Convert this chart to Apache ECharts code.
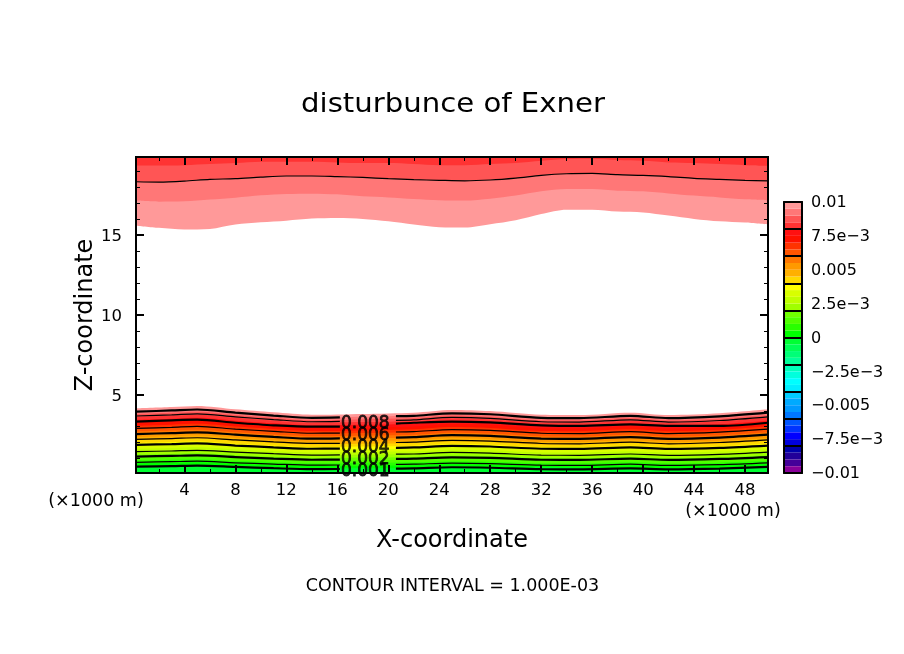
<!DOCTYPE html>
<html><head><meta charset="utf-8">
<script src="https://cdn.jsdelivr.net/npm/echarts@6/dist/echarts.min.js"></script>
<style>html,body{margin:0;padding:0;background:#fff}#c{width:904px;height:654px}</style>
</head><body><div id="c"></div>
<script>
// ---- tick values and labels
const xMajor = [4,8,12,16,20,24,28,32,36,40,44,48];
const xMinor = [2,6,10,14,18,22,26,30,34,38,42,46];
const zMajor = [5,10,15];
const zMinor = [1,2,3,4,6,7,8,9,11,12,13,14,16,17,18,19];
const barLabelValues = [0.01,0.0075,0.005,0.0025,0,-0.0025,-0.005,-0.0075,-0.01];
const barLabelTexts = ['0.01','7.5e\u22123','0.005','2.5e\u22123','0','\u22122.5e\u22123','\u22120.005','\u22127.5e\u22123','\u22120.01'];
const barSeparators = [0.008,0.006,0.004,0.002,0,-0.002,-0.004,-0.006,-0.008];
// ---- colour scale, top (0.01) to bottom (-0.01), one per 0.0005
const barColors = ['#ff9999','#ff7777','#ff5555','#ff3333','#ff1111','#ff1100','#ff3300','#ff5500','#ff7700','#ff9900',
 '#ffb000','#ffd800','#ffff00','#d8ff00','#c0ff00','#a0ff00','#70ff00','#50ff00','#28ff00','#00ff00',
 '#00ff33','#00ff55','#00ff77','#00ff99','#00ffbb','#00ffdd','#00ffff','#00eeff','#00ccff','#00aaff',
 '#0099ff','#0077ff','#0055ff','#0033ff','#0000ff','#0000dd','#0000aa','#220099','#440099','#880099'];
// ---- upper region: height of each shade boundary
const topX = [0.2,2,4,6,8,10,12,14,16,18,20,22,24,26,28,30,32,34,36,38,40,42,44,46,48,49.8];
const top100 = [15.60,15.46,15.35,15.39,15.67,15.81,15.91,16.04,16.08,16.02,15.87,15.67,15.50,15.48,15.69,15.94,16.33,16.60,16.60,16.48,16.42,16.23,16.02,15.87,15.79,15.67];
const top095 = [17.17,17.10,17.12,17.23,17.35,17.50,17.58,17.60,17.56,17.44,17.37,17.27,17.19,17.17,17.29,17.48,17.75,17.90,17.90,17.79,17.75,17.62,17.48,17.37,17.25,17.19];
const top090 = [18.35,18.33,18.39,18.50,18.54,18.64,18.71,18.71,18.67,18.62,18.54,18.48,18.44,18.41,18.46,18.58,18.75,18.85,18.87,18.79,18.75,18.67,18.56,18.50,18.44,18.41];
const top085 = [19.37,19.37,19.39,19.46,19.52,19.60,19.60,19.60,19.56,19.52,19.52,19.46,19.39,19.39,19.46,19.52,19.66,19.77,19.79,19.71,19.66,19.56,19.52,19.46,19.39,19.35];
// ---- lower region: height of each shade boundary
const lowX = [0.2,3,5,8,11,14,18,22,25,28,32,35,39,42,46,49.8];
const b00 = [4.15,4.23,4.30,4.09,3.90,3.75,3.80,3.88,4.05,3.98,3.75,3.73,3.88,3.73,3.84,4.09];
const b01 = [3.97,4.05,4.12,3.91,3.73,3.58,3.63,3.71,3.87,3.81,3.58,3.56,3.71,3.56,3.67,3.91];
const b02 = [3.79,3.87,3.93,3.73,3.56,3.41,3.46,3.54,3.70,3.63,3.41,3.40,3.54,3.40,3.50,3.73];
const b03 = [3.61,3.68,3.75,3.56,3.38,3.25,3.29,3.36,3.52,3.46,3.25,3.23,3.36,3.23,3.33,3.56];
const b04 = [3.43,3.50,3.56,3.38,3.21,3.08,3.12,3.19,3.34,3.28,3.08,3.06,3.19,3.06,3.16,3.38];
const b05 = [3.25,3.32,3.38,3.20,3.04,2.91,2.95,3.02,3.17,3.11,2.91,2.89,3.02,2.89,2.99,3.20];
const b06 = [3.06,3.13,3.18,3.01,2.86,2.73,2.77,2.84,2.98,2.92,2.73,2.72,2.84,2.72,2.81,3.01];
const b07 = [2.88,2.94,3.00,2.83,2.68,2.56,2.60,2.67,2.80,2.75,2.56,2.55,2.67,2.55,2.64,2.83];
const b08 = [2.70,2.76,2.81,2.65,2.51,2.40,2.43,2.49,2.62,2.57,2.40,2.38,2.49,2.38,2.46,2.65];
const b09 = [2.52,2.58,2.63,2.48,2.34,2.23,2.26,2.32,2.45,2.40,2.23,2.21,2.32,2.21,2.29,2.48];
const b10 = [2.34,2.40,2.45,2.30,2.17,2.06,2.10,2.15,2.27,2.22,2.06,2.05,2.15,2.05,2.12,2.30];
const b11 = [2.16,2.21,2.26,2.12,1.99,1.89,1.93,1.98,2.09,2.05,1.89,1.88,1.98,1.88,1.95,2.12];
const b12 = [1.98,2.03,2.08,1.94,1.82,1.72,1.76,1.81,1.92,1.87,1.72,1.71,1.81,1.71,1.78,1.94];
const b13 = [1.80,1.85,1.89,1.76,1.65,1.56,1.59,1.64,1.74,1.70,1.56,1.54,1.64,1.54,1.61,1.76];
const b14 = [1.62,1.67,1.71,1.59,1.48,1.39,1.42,1.46,1.56,1.52,1.39,1.38,1.46,1.38,1.44,1.59];
const b15 = [1.44,1.48,1.52,1.41,1.30,1.22,1.25,1.29,1.39,1.35,1.22,1.21,1.29,1.21,1.27,1.41];
const b16 = [1.25,1.29,1.33,1.22,1.12,1.04,1.07,1.11,1.20,1.16,1.04,1.03,1.11,1.03,1.09,1.22];
const b17 = [1.07,1.11,1.14,1.04,0.95,0.87,0.90,0.94,1.02,0.99,0.87,0.86,0.94,0.86,0.92,1.04];
const b18 = [0.89,0.93,0.96,0.86,0.78,0.71,0.73,0.77,0.84,0.81,0.71,0.70,0.77,0.70,0.75,0.86];
const b19 = [0.71,0.74,0.77,0.68,0.60,0.54,0.56,0.59,0.67,0.64,0.54,0.53,0.59,0.53,0.58,0.68];
const b20 = [0.53,0.56,0.59,0.51,0.43,0.37,0.39,0.42,0.49,0.46,0.37,0.36,0.42,0.36,0.41,0.51];
// ---- contour lines of the lower region (broken around the labels at x = 18)
const lineX = [0.2,3,5,8,11,14,16.2,18,20.6,22,25,28,32,35,39,42,46,49.8];
const c00 = [3.94,4.02,4.08,3.88,3.70,3.56,3.58,null,3.66,3.68,3.84,3.78,3.56,3.54,3.68,3.54,3.65,3.88];
const c01 = [3.67,3.74,3.81,3.62,3.45,3.31,3.33,null,3.40,3.43,3.58,3.52,3.31,3.29,3.43,3.29,3.39,3.62];
const c02 = [3.32,3.40,3.44,3.25,3.09,3.00,3.00,null,3.19,3.25,3.32,3.27,3.09,3.05,3.15,3.05,3.05,3.25];
const c03 = [2.90,2.96,3.02,2.85,2.71,2.59,2.60,null,2.67,2.69,2.82,2.77,2.59,2.57,2.69,2.57,2.66,2.85];
const c04 = [2.54,2.60,2.65,2.50,2.36,2.25,2.27,null,2.32,2.35,2.47,2.42,2.25,2.24,2.35,2.24,2.32,2.50];
const c05 = [2.21,2.26,2.31,2.17,2.05,1.95,1.96,null,2.01,2.03,2.14,2.10,1.95,1.93,2.03,1.93,2.01,2.17];
const c06 = [1.86,1.91,1.95,1.82,1.71,1.62,1.63,null,1.68,1.70,1.80,1.76,1.62,1.61,1.70,1.61,1.67,1.82];
const c07 = [1.44,1.48,1.52,1.41,1.31,1.22,1.23,null,1.28,1.29,1.39,1.35,1.22,1.21,1.29,1.21,1.27,1.41];
const c08 = [1.13,1.17,1.20,1.10,1.00,0.93,0.94,null,0.98,1.00,1.08,1.05,0.93,0.92,1.00,0.92,0.98,1.10];
const c09 = [0.77,0.81,0.84,0.74,0.66,0.59,0.60,null,0.64,0.65,0.72,0.69,0.59,0.58,0.65,0.58,0.63,0.74];
const c10 = [0.50,0.53,0.56,0.48,0.40,0.34,0.35,null,0.38,0.39,0.46,0.43,0.34,0.33,0.39,0.33,0.38,0.48];
const contourLabelTexts = ['0.008','0.006','0.004','0.002','0.001'];
const contourLabelZ = [3.17,2.42,1.67,0.97,0.22];
const contourLabelX = [18.2,18.2,18.2,18.2,18.2];

const FONT = 'DejaVu Sans';
const lowBands = [b00,b01,b02,b03,b04,b05,b06,b07,b08,b09,b10,b11,b12,b13,b14,b15,b16,b17,b18,b19,b20];
const lowLines = [c00,c01,c02,c03,c04,c05,c06,c07,c08,c09,c10];
const topBands = [top100,top095,top090,top085];
const zip = (xs, ys) => xs.map((x,i) => [x, ys[i]]);
const series = [];
topBands.forEach((b,i) => series.push({type:'line', z:2, xAxisIndex:0, yAxisIndex:0, symbol:'none', smooth:0.3, silent:true,
  data:zip(topX,b), lineStyle:{width:0}, areaStyle:{color:barColors[i], opacity:1, origin:'end'}}));
lowBands.forEach((b,i) => series.push({type:'line', z:2, xAxisIndex:0, yAxisIndex:0, symbol:'none', smooth:0.3, silent:true,
  data:zip(lowX,b), lineStyle:{width:0}, areaStyle:{color:barColors[i], opacity:1, origin:'start'}}));
// the shade under the lowest contour
series.push({type:'line', z:2, xAxisIndex:0, yAxisIndex:0, symbol:'none', smooth:0.3, silent:true,
  data:zip(lowX,c10), lineStyle:{width:0}, areaStyle:{color:barColors[20], opacity:1, origin:'start'}});
series.push({type:'line', z:3, xAxisIndex:0, yAxisIndex:0, symbol:'none', smooth:0.3, silent:true,
  data:zip(topX,top090), lineStyle:{color:'#000', width:1.2}});
lowLines.forEach((l,i) => series.push({type:'line', z:3, xAxisIndex:0, yAxisIndex:0, symbol:'none', smooth:0.3, silent:true,
  data:zip(lineX,l), lineStyle:{color:'#000', width:i%2===0?2.2:1.2}}));
series.push({type:'scatter', z:5, xAxisIndex:0, yAxisIndex:0, symbolSize:0, silent:true,
  data:contourLabelTexts.map((t,i)=>({value:[contourLabelX[i],contourLabelZ[i]], name:t})),
  label:{show:true, position:'inside', formatter:p=>p.name, color:'#000', fontFamily:FONT, fontSize:17,
         textBorderColor:'#000', textBorderWidth:0.8}});
// colour bar: inner bands stack first, outward from zero
const step = 0.0005;
for (let i=19;i>=0;i--) series.push({type:'bar', z:2, xAxisIndex:4, yAxisIndex:4, stack:'bar', silent:true, barCategoryGap:0, barGap:0,
  data:[step], itemStyle:{color:barColors[i]}});
for (let i=20;i<40;i++) series.push({type:'bar', z:2, xAxisIndex:4, yAxisIndex:4, stack:'bar', silent:true, barCategoryGap:0, barGap:0,
  data:[-step], itemStyle:{color:barColors[i]}});

const line = {show:true, onZero:false, lineStyle:{color:'#000', width:2}};
const xAx = (position, ticks, len, w, labels) => ({type:'value', gridIndex:0, min:0.2, max:49.8, position, z:10,
  axisLine:line, splitLine:{show:false},
  axisTick:{show:true, inside:true, length:len, customValues:ticks, lineStyle:{color:'#000', width:w}},
  axisLabel:labels ? {show:true, customValues:ticks, margin:9, color:'#000', fontFamily:FONT, fontSize:16.5} : {show:false}});
const yAx = (position, ticks, len, w, labels) => ({type:'value', gridIndex:0, min:0.1, max:19.9, position, z:10,
  axisLine:line, splitLine:{show:false},
  axisTick:{show:true, inside:true, length:len, customValues:ticks, lineStyle:{color:'#000', width:w}},
  axisLabel:labels ? {show:true, customValues:ticks, margin:14, verticalAlign:'top', lineHeight:3, color:'#000', fontFamily:FONT, fontSize:16.5} : {show:false}});

const xAxes = [
  Object.assign(xAx('bottom',xMajor,8,2,true), {name:'X-coordinate', nameLocation:'middle', nameGap:56, nameMoveOverlap:false,
    nameTextStyle:{color:'#000', fontFamily:FONT, fontSize:24}}),
  xAx('bottom',xMinor,4,1,false), xAx('top',xMajor,8,2,false), xAx('top',xMinor,4,1,false),
  {type:'category', gridIndex:1, data:['c'], position:'bottom', z:10, axisLine:line, axisTick:{show:false}, axisLabel:{show:false}},
  {type:'category', gridIndex:1, data:['c'], position:'top', z:10, axisLine:line, axisTick:{show:false}, axisLabel:{show:false}}
];
const yAxes = [
  Object.assign(yAx('left',zMajor,8,2,true), {name:'Z-coordinate', nameLocation:'middle', nameGap:38, nameRotate:90, nameMoveOverlap:false,
    nameTextStyle:{color:'#000', fontFamily:FONT, fontSize:24}}),
  yAx('left',zMinor,4,1,false), yAx('right',zMajor,8,2,false), yAx('right',zMinor,4,1,false),
  {type:'value', gridIndex:1, min:-0.01, max:0.01, position:'right', z:10, axisLine:line, splitLine:{show:false},
   axisTick:{show:true, inside:true, length:18, customValues:barSeparators, lineStyle:{color:'#000', width:2}},
   axisLabel:{show:true, customValues:barLabelValues, margin:9, verticalAlign:'top', lineHeight:2, color:'#000', fontFamily:FONT, fontSize:16,
     formatter:v=>barLabelTexts[barLabelValues.indexOf(v)]}},
  {type:'value', gridIndex:1, min:-0.01, max:0.01, position:'left', z:10, axisLine:line, splitLine:{show:false},
   axisTick:{show:false}, axisLabel:{show:false}}
];
const chart = echarts.init(document.getElementById('c'), null, {renderer:'canvas', width:904, height:654});
chart.setOption({
  animation:false, backgroundColor:'#fff',
  grid:[{left:136, top:157, width:632, height:316, containLabel:false},
        {left:784, top:202, width:18, height:271, containLabel:false}],
  xAxis:xAxes, yAxis:yAxes, series,
  graphic:[
    {type:'text', x:453, y:105, scaleX:1.08, style:{text:'disturbunce of Exner', fill:'#000', font:'27px "DejaVu Sans"', textAlign:'center', textVerticalAlign:'middle'}},
    {type:'text', x:452.5, y:586, style:{text:'CONTOUR INTERVAL = 1.000E-03', fill:'#000', font:'17.5px "DejaVu Sans"', textAlign:'center', textVerticalAlign:'middle'}},
    {type:'text', x:96, y:501, style:{text:'(\u00d71000 m)', fill:'#000', font:'17.5px "DejaVu Sans"', textAlign:'center', textVerticalAlign:'middle'}},
    {type:'text', x:733, y:511, style:{text:'(\u00d71000 m)', fill:'#000', font:'17.5px "DejaVu Sans"', textAlign:'center', textVerticalAlign:'middle'}}
  ]
});
</script></body></html>
